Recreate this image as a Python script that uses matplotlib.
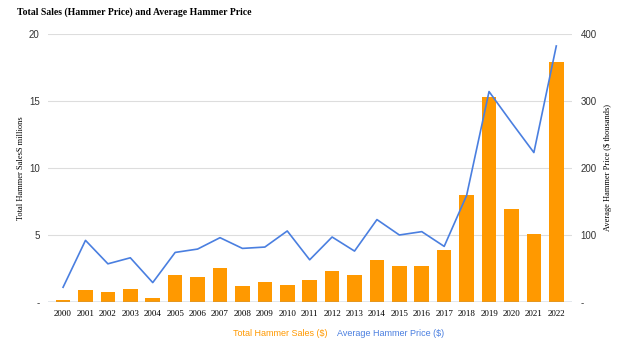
import numpy as np
import matplotlib.pyplot as plt

# ===================== DATA =====================
years = [str(y) for y in range(2000, 2023)]
total_sales = [0.13, 0.92, 0.78, 0.96, 0.33, 2.05, 1.87, 2.56, 1.17, 1.53, 1.24, 1.68,
               2.3, 2.05, 3.17, 2.65, 2.72, 3.87, 8.0, 15.3, 6.96, 5.1, 17.9]   # $ millions
avg_price = [22, 92, 57, 66, 29, 74, 79, 96, 80, 82, 106, 63,
             97, 76, 123, 100, 105, 83, 159, 314, 268, 223, 382]        # $ thousands
# =================================================

BAR_COLOR = "#ff9900"
LINE_COLOR = "#4a7fe0"
SERIF = "Liberation Serif"
SANS = "Liberation Sans"

fig = plt.figure(figsize=(6.24, 3.57), dpi=100)
ax = fig.add_axes([0.077, 0.154, 0.840, 0.751])
ax2 = ax.twinx()

x = np.arange(len(years))
ax.bar(x, total_sales, width=0.65, color=BAR_COLOR, zorder=2)
ax2.plot(x, avg_price, color=LINE_COLOR, lw=1.2, zorder=3)

ax.set_ylim(0, 20)
ax2.set_ylim(0, 400)
ax.set_xlim(-0.67, 22.71)

ax.set_yticks([0, 5, 10, 15, 20])
ax.set_yticklabels(["-", "5", "10", "15", "20"], family=SANS, fontsize=7, color="#333333")
ax2.set_yticks([0, 100, 200, 300, 400])
ax2.set_yticklabels(["-", "100", "200", "300", "400"], family=SANS, fontsize=7, color="#333333")
ax.set_xticks(x)
ax.set_xticklabels(years, family=SERIF, fontsize=6.5)

ax.grid(axis="y", color="#dddddd", lw=0.8, zorder=0)
ax.set_axisbelow(True)
for a in (ax, ax2):
    for s in ("top", "left", "right", "bottom"):
        a.spines[s].set_visible(False)
    a.tick_params(length=0, pad=6)
ax.axhline(0, color="#7d8fa8", lw=1.0, zorder=4)

ax.set_ylabel("Total Hammer SalesS millions", family=SERIF, fontsize=6, labelpad=3)
ax2.set_ylabel("Average Hammer Price ($ thousands)", family=SERIF, fontsize=6, labelpad=5)

fig.text(0.028, 0.978, "Total Sales (Hammer Price) and Average Hammer Price",
         family=SERIF, fontsize=7, fontweight="bold", va="top")

fig.text(0.525, 0.06, "Total Hammer Sales ($)", color=BAR_COLOR, family=SANS,
         fontsize=6.5, ha="right")
fig.text(0.54, 0.06, "Average Hammer Price ($)", color=LINE_COLOR, family=SANS,
         fontsize=6.5, ha="left")

fig.savefig("out.png", dpi=100)
